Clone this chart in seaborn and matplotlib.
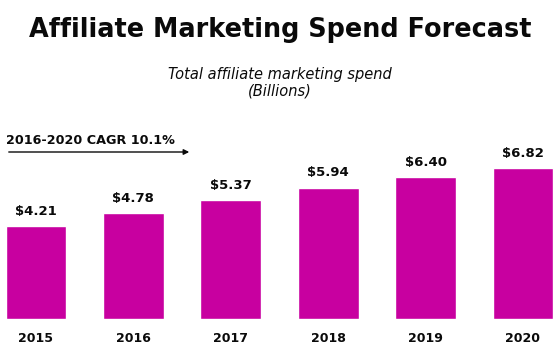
import matplotlib
matplotlib.use("Agg")
import matplotlib.pyplot as plt
import seaborn as sns
import pandas as pd

# dados do gráfico
years = ["2015", "2016", "2017", "2018", "2019", "2020"]
spend = [4.21, 4.78, 5.37, 5.94, 6.40, 6.82]
value_labels = ["$4.21", "$4.78", "$5.37", "$5.94", "$6.40", "$6.82"]

df = pd.DataFrame({"year": years, "spend": spend})

sns.set_style("white")
plt.rcParams["font.family"] = ["DejaVu Sans"]

fig = plt.figure(figsize=(5.6, 3.62), dpi=100)
ax = fig.add_axes([0, 43 / 362, 1, 199 / 362])

sns.barplot(data=df, x="year", y="spend", color="#C800A0", saturation=1,
            width=0.625, ax=ax)

ax.set_xlim(-0.3696, 5.380)
ax.set_ylim(0, 9.0)
ax.set_xlabel("")
ax.set_ylabel("")
ax.set_yticks([])
ax.tick_params(axis="x", length=0, pad=9)
plt.setp(ax.get_xticklabels(), fontsize=9, fontweight="bold", color="#0a0a0a")
sns.despine(ax=ax, left=True, bottom=True)

# rótulos de valor
for i, (v, lab) in enumerate(zip(spend, value_labels)):
    ax.annotate(lab, (i, v), xytext=(0, 6), textcoords="offset points",
                ha="center", va="bottom", fontsize=9.5, fontweight="bold",
                color="#0a0a0a")

# título e subtítulo
fig.text(0.5, 1 - 30 / 362, "Affiliate Marketing Spend Forecast",
         ha="center", va="center", fontsize=18.4, fontweight="bold",
         color="#0a0a0a")
fig.text(0.5, 1 - 83 / 362, "Total affiliate marketing spend\n(Billions)",
         ha="center", va="center", fontsize=10.5, fontstyle="italic",
         color="#0a0a0a", linespacing=1.15)

# CAGR
fig.text(6 / 560, 1 - 140 / 362, "2016-2020 CAGR 10.1%", ha="left",
         va="center", fontsize=9.2, fontweight="bold", color="#0a0a0a")
fig.add_artist(matplotlib.patches.FancyArrowPatch(
    (6 / 560, 1 - 152 / 362), (192 / 560, 1 - 152 / 362),
    transform=fig.transFigure, arrowstyle="-|>", mutation_scale=8,
    color="#0a0a0a", lw=1))

plt.savefig("out.png", dpi=100)
